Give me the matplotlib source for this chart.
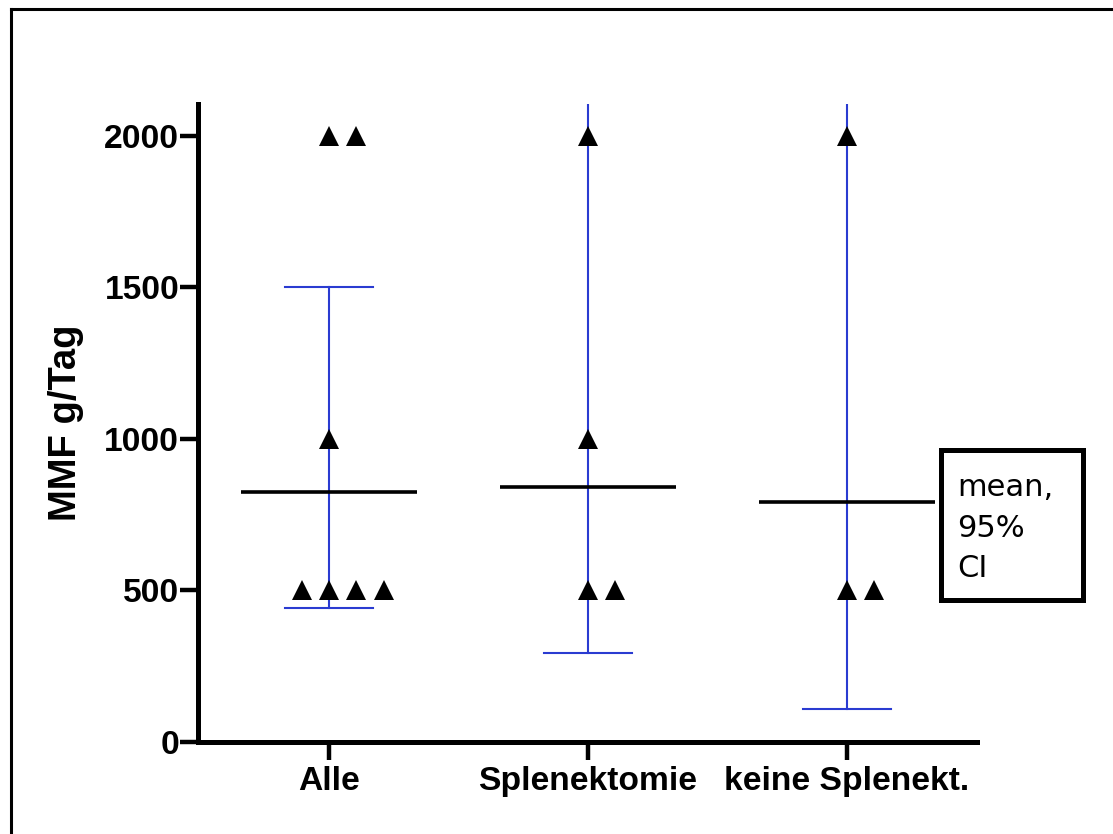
import matplotlib
matplotlib.use("Agg")
import matplotlib.pyplot as plt
from matplotlib.lines import Line2D
from matplotlib.patches import Rectangle
from collections import Counter

# ---- data -------------------------------------------------------------
groups = ["Alle", "Splenektomie", "keine Splenekt."]
alle = [2000, 2000, 1000, 500, 500, 500, 500]
splenektomie = [2000, 1000, 500, 500]
keine_splenektomie = [2000, 500, 500]
mean_values = [825, 842, 792]
ci_lower = [442, 294, 109]
ci_upper = [1500, 2400, 2500]
y_ticks = [0, 500, 1000, 1500, 2000]
y_label = "MMF g/Tag"
legend_lines = ["mean,", "95%", "CI"]

group_values = [alle, splenektomie, keine_splenektomie]

# ---- style -------------------------------------------------------------
W, H, DPI = 1113, 834, 100
BLUE = "#2a3bd1"
TICK_FONT = dict(family="Liberation Sans", weight="bold", size=24.2)

fig = plt.figure(figsize=(W / DPI, H / DPI), dpi=DPI)
ax = fig.add_axes([198 / W, 1 - 742 / H, (977 - 198) / W, (742 - 104) / H])


def spread(values, step=0.106):
    """Horizontal offsets for repeated values: first at centre, rest side by side."""
    seen = Counter()
    totals = Counter(values)
    offsets = []
    for v in values:
        n = totals[v]
        k = seen[v]
        seen[v] += 1
        offsets.append((k - (n - 1) // 2) * step)
    return offsets


mean_half = 0.34
cap_half = 0.17
for i, vals in enumerate(group_values):
    # confidence interval
    ax.plot([i, i], [ci_lower[i], ci_upper[i]], color=BLUE, lw=1.5, zorder=2)
    for y in (ci_lower[i], ci_upper[i]):
        ax.plot([i - cap_half, i + cap_half], [y, y], color=BLUE, lw=1.5, zorder=2)
    # mean
    ax.plot([i - mean_half, i + mean_half], [mean_values[i], mean_values[i]],
            color="black", lw=2.6, zorder=3, solid_capstyle="butt")
    # individual values
    offs = spread(vals)
    ax.plot([i + o for o in offs], vals, linestyle="none", marker="^",
            ms=14.5, color="black", mew=0, zorder=4, clip_on=False)

ax.set_xlim(-0.506, 2.502)
ax.set_ylim(0, 2105)
ax.set_xticks(range(len(groups)))
ax.set_xticklabels(groups, fontdict=TICK_FONT)
ax.set_yticks(y_ticks)
ax.set_yticklabels([str(t) for t in y_ticks], fontdict=TICK_FONT)

for side in ("top", "right"):
    ax.spines[side].set_visible(False)
for side in ("left", "bottom"):
    ax.spines[side].set_linewidth(3.6)
ax.tick_params(axis="both", direction="out", length=13, width=3.2, color="black")
ax.tick_params(axis="y", pad=0.5)
ax.tick_params(axis="x", pad=4)

ax.set_ylabel(y_label, family="Liberation Sans", weight="bold", size=27.5)
ax.yaxis.set_label_coords(-0.146, 0.5)

# ---- legend box -------------------------------------------------------
fig.add_artist(Rectangle((940.5 / W, 1 - 599.5 / H), 142 / W, 150 / H,
                         transform=fig.transFigure, fill=False,
                         edgecolor="black", lw=3.6))
for txt, base in zip(legend_lines, [496, 537, 577]):
    fig.text(957 / W, 1 - base / H, txt, family="DejaVu Sans", size=22,
             ha="left", va="baseline")

# ---- outer frame -------------------------------------------------------
fig.add_artist(Line2D([10.5 / W, 10.5 / W], [0, 1 - 8.5 / H],
                      transform=fig.transFigure, color="black", lw=2.2,
                      solid_capstyle="projecting"))
fig.add_artist(Line2D([10.5 / W, 1], [1 - 8.5 / H, 1 - 8.5 / H],
                      transform=fig.transFigure, color="black", lw=2.2,
                      solid_capstyle="projecting"))

fig.savefig("out.png", dpi=DPI)
